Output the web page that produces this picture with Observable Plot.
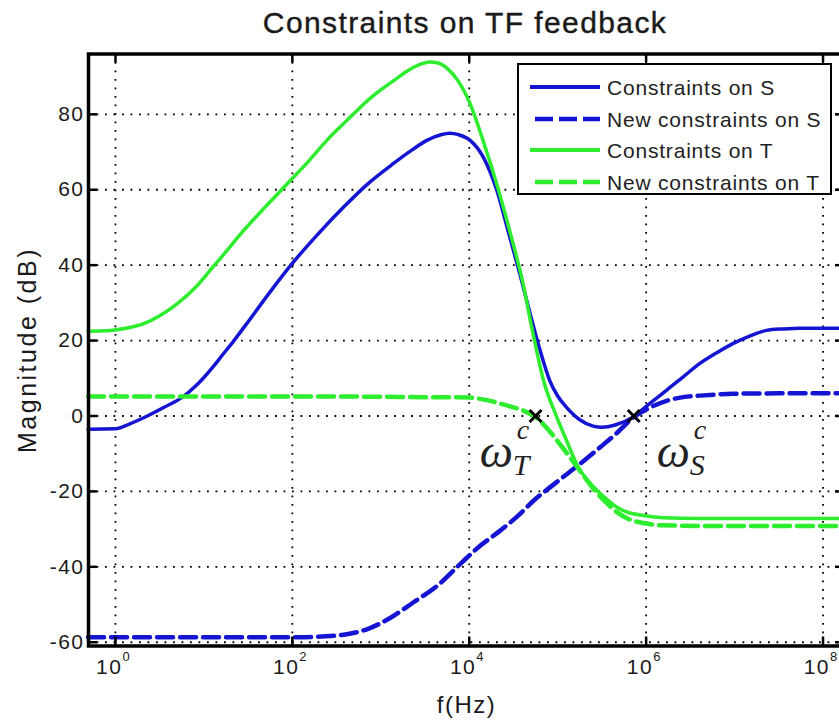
<!DOCTYPE html>
<html>
<head>
<meta charset="utf-8">
<script src="https://cdn.jsdelivr.net/npm/d3@7"></script>
<script src="https://cdn.jsdelivr.net/npm/@observablehq/plot@0.6"></script>
<style>
  body { margin: 0; background: #fff; }
  #wrap { position: relative; width: 839px; height: 726px; overflow: hidden; font-family: "Liberation Sans", Arial, sans-serif; color: #1a1a1a; }
  #title { position: absolute; top: 8px; left: 0; width: 930px; text-align: center; font-size: 30px; line-height: 30px; letter-spacing: 1.4px; white-space: nowrap; -webkit-text-stroke: 0.4px #1a1a1a; }
  #chart { position: absolute; top: 45px; left: 0; }
  #legend { position: absolute; left: 517px; top: 63px; width: 315px; height: 132px; box-sizing: border-box; border: 2px solid #000; background: #fff; }
  #legend .row { position: absolute; left: 0; height: 30px; width: 100%; }
  #legend svg { position: absolute; left: 0; top: 0; }
  #legend span { position: absolute; left: 88px; top: 3px; font-size: 21px; line-height: 24px; letter-spacing: 0.8px; white-space: nowrap; color: #222; }
</style>
</head>
<body>
<div id="wrap">
  <div id="title">Constraints on TF feedback</div>
  <div id="chart"></div>
  <div id="legend"></div>
</div>
<script>
// ---- data (frequency as log10(f / Hz), magnitude in dB) ----
const seriesNames = ["Constraints on S", "New constraints on S", "Constraints on T", "New constraints on T"];

const sLogF = [-0.31, 0.0, 0.15, 0.36, 0.55, 0.77, 0.9, 1.0, 1.11, 1.2, 1.34, 1.5, 1.65, 1.99, 2.3, 2.58, 2.85, 3.14, 3.35, 3.52, 3.68, 3.78, 3.88, 4.01, 4.16, 4.31, 4.44, 4.58, 4.69, 4.80, 4.91, 5.0, 5.1, 5.25, 5.4, 5.5, 5.65, 5.85, 6.05, 6.23, 6.42, 6.6, 6.8, 6.98, 7.17, 7.36, 7.55, 7.74, 8.0, 8.3];
const sDb   = [-3.5, -3.4, -2.2, 0.0, 2.3, 5.2, 7.8, 10.2, 13.2, 15.9, 20.0, 25.0, 29.8, 40.2, 48.5, 55.4, 61.5, 66.9, 70.5, 73.1, 74.6, 75.0, 74.6, 73.1, 68.6, 60.0, 49.0, 37.0, 27.0, 17.5, 9.4, 5.3, 2.3, -1.0, -2.7, -3.0, -2.4, -0.3, 3.5, 6.8, 10.4, 13.8, 16.8, 19.2, 21.2, 22.7, 23.1, 23.3, 23.3, 23.3];

const sNewLogF = [-0.31, 1.0, 2.09, 2.32, 2.58, 2.85, 3.11, 3.37, 3.64, 3.90, 4.12, 4.35, 4.55, 4.73, 4.92, 5.11, 5.3, 5.48, 5.67, 5.86, 6.05, 6.24, 6.42, 6.61, 6.99, 7.5, 8.3];
const sNewDb   = [-58.7, -58.7, -58.7, -58.5, -58.0, -56.5, -53.5, -49.4, -45.0, -39.2, -34.5, -30.4, -26.5, -22.4, -18.8, -15.3, -11.8, -8.3, -4.5, -0.3, 2.3, 4.1, 5.0, 5.4, 5.9, 6.0, 6.0];

const tLogF = [-0.31, -0.1, 0.1, 0.32, 0.5, 0.70, 0.9, 1.07, 1.25, 1.45, 1.7, 1.98, 2.2, 2.39, 2.6, 2.77, 2.95, 3.15, 3.3, 3.45, 3.55, 3.65, 3.75, 3.87, 4.01, 4.15, 4.33, 4.47, 4.6, 4.72, 4.84, 4.99, 5.1, 5.22, 5.41, 5.55, 5.67, 5.8, 5.97, 6.2, 6.6, 7.0, 8.3];
const tDb   = [22.5, 22.6, 23.2, 24.5, 26.6, 29.8, 34.0, 38.6, 43.6, 49.2, 55.6, 62.5, 68.0, 73.1, 78.0, 81.9, 85.6, 89.0, 91.5, 93.3, 93.9, 93.6, 92.2, 89.0, 82.8, 73.5, 60.0, 48.0, 36.0, 22.0, 9.4, -0.3, -6.5, -13.0, -18.9, -22.0, -24.2, -25.6, -26.4, -27.0, -27.2, -27.2, -27.2];

const tNewLogF = [-0.31, 1.0, 2.0, 3.0, 3.5, 3.8, 4.0, 4.2, 4.35, 4.47, 4.58, 4.66, 4.75, 4.85, 5.02, 5.22, 5.41, 5.55, 5.67, 5.8, 5.97, 6.2, 7.0, 8.3];
const tNewDb   = [5.2, 5.2, 5.2, 5.1, 5.0, 5.0, 4.9, 4.2, 3.3, 2.5, 1.7, 0.9, -0.3, -2.5, -7.3, -13.5, -19.5, -23.0, -25.5, -27.3, -28.4, -29.0, -29.2, -29.2];

const crossLogF = [4.75, 5.86];
const crossDb = [0, 0];

const omegaSubs = ["T", "S"];
const omegaLogF = [4.12, 6.12];
const omegaDb = [-13.4, -13.4];

const xTickExps = [0, 2, 4, 6, 8];
const yTicks = [-60, -40, -20, 0, 20, 40, 60, 80];
const xDomainLog = [-0.305, 8.243];
const yDomain = [-61, 96];

// ---- styling ----
const BLUE = "#1414d2";
const GREEN = "#2eec2e";
const seriesStyle = [
  {color: BLUE, dash: null, width: 3.5},
  {color: BLUE, dash: "16,7", width: 4.5},
  {color: GREEN, dash: null, width: 3.5},
  {color: GREEN, dash: "16,7", width: 4.5}
];
const seriesData = [[sLogF, sDb], [sNewLogF, sNewDb], [tLogF, tDb], [tNewLogF, tNewDb]];

const rowsFor = (lf, db) => lf.map((l, i) => ({f: 10 ** l, db: db[i]}));
const xTicks = xTickExps.map(e => 10 ** e);
const X0 = 10 ** xDomainLog[0], X1 = 10 ** xDomainLog[1];

const W = 839, H = 681;
const mTop = 8.5, mBottom = 80.5, mLeft = 88, mRight = -5;
const plotH = H - mTop - mBottom, plotW = W - mLeft - mRight;
const dbPerPx = (yDomain[1] - yDomain[0]) / plotH;
const decPerPx = (xDomainLog[1] - xDomainLog[0]) / plotW;
const tickLen = 9;

const gridStyle = {stroke: "#000", strokeOpacity: 1, strokeWidth: 1.8, strokeDasharray: "1.8,6.7"};

const marks = [
  Plot.gridX(xTicks, gridStyle),
  Plot.gridY(yTicks, gridStyle),
  ...seriesData.map(([lf, db], i) => Plot.line(rowsFor(lf, db), {
    x: "f", y: "db", stroke: seriesStyle[i].color, strokeWidth: seriesStyle[i].width,
    strokeDasharray: seriesStyle[i].dash, curve: "monotone-x"
  })),
  Plot.dot(rowsFor(crossLogF, crossDb), {x: "f", y: "db", symbol: "times", r: 5.5, stroke: "#000", strokeWidth: 3}),
  // omega labels
  Plot.text(omegaSubs, {x: (d, i) => 10 ** omegaLogF[i], y: (d, i) => omegaDb[i], text: () => "ω",
    fontFamily: "Liberation Serif, serif", fontStyle: "italic", fontSize: 47, textAnchor: "start", lineAnchor: "bottom", fill: "#222"}),
  Plot.text(omegaSubs, {x: (d, i) => 10 ** omegaLogF[i], y: (d, i) => omegaDb[i], text: () => "c", dx: 37, dy: -28,
    fontFamily: "Liberation Serif, serif", fontStyle: "italic", fontSize: 28, textAnchor: "start", lineAnchor: "bottom", fill: "#222"}),
  Plot.text(omegaSubs, {x: (d, i) => 10 ** omegaLogF[i], y: (d, i) => omegaDb[i], text: d => d, dx: 33, dy: 8,
    fontFamily: "Liberation Serif, serif", fontStyle: "italic", fontSize: 30, textAnchor: "start", lineAnchor: "bottom", fill: "#222"}),
  // inward ticks
  Plot.ruleX(xTicks, {x: d => d, y1: yDomain[0], y2: yDomain[0] + tickLen * dbPerPx, stroke: "#000", strokeWidth: 2.5}),
  Plot.ruleX(xTicks, {x: d => d, y1: yDomain[1] - tickLen * dbPerPx, y2: yDomain[1], stroke: "#000", strokeWidth: 2.5}),
  Plot.ruleY(yTicks, {y: d => d, x1: X0, x2: X0 * 10 ** (tickLen * decPerPx), stroke: "#000", strokeWidth: 2.5}),
  Plot.ruleY(yTicks, {y: d => d, x1: X1 / 10 ** (tickLen * decPerPx), x2: X1, stroke: "#000", strokeWidth: 2.5}),
  Plot.frame({stroke: "#000", strokeWidth: 3.5}),
  // tick labels
  Plot.text(yTicks, {y: d => d, frameAnchor: "left", dx: -4, text: d => String(d), textAnchor: "end", lineAnchor: "middle", fontSize: 21}),
  Plot.text(xTicks, {x: d => d, frameAnchor: "bottom", dy: 28, dx: 7, text: () => "10", textAnchor: "end", lineAnchor: "bottom", fontSize: 21}),
  Plot.text(xTickExps, {x: d => 10 ** d, frameAnchor: "bottom", dy: 15, dx: 7, text: d => String(d), textAnchor: "start", lineAnchor: "bottom", fontSize: 13}),
  // axis labels
  Plot.text(["f(Hz)"], {frameAnchor: "bottom", dy: 67, text: d => d, textAnchor: "middle", lineAnchor: "bottom", fontSize: 24}),
  Plot.text(["Magnitude (dB)"], {frameAnchor: "left", dx: -61, text: d => d, rotate: -90, textAnchor: "middle", lineAnchor: "middle", fontSize: 25})
];

const chart = Plot.plot({
  width: W, height: H,
  marginTop: mTop, marginBottom: mBottom, marginLeft: mLeft, marginRight: mRight,
  x: {type: "log", domain: [X0, X1], axis: null},
  y: {domain: yDomain, axis: null},
  style: {fontFamily: "Liberation Sans, Arial, sans-serif", fontSize: "20px", color: "#1a1a1a", background: "transparent", overflow: "hidden", letterSpacing: "1.5px"},
  marks
});
d3.select(chart).selectAll("text").filter(function() { return this.textContent === "Magnitude (dB)"; }).style("letter-spacing", "2.5px");
document.getElementById("chart").appendChild(chart);

// legend
const legend = d3.select("#legend");
const rowTops = [8, 40, 71, 103];
seriesNames.forEach((name, i) => {
  const row = legend.append("div").attr("class", "row").style("top", rowTops[i] + "px");
  const svg = row.append("svg").attr("width", 90).attr("height", 30);
  const st = seriesStyle[i];
  svg.append("line")
    .attr("x1", st.dash ? 16 : 11).attr("x2", 81).attr("y1", 14).attr("y2", 14)
    .attr("stroke", st.color).attr("stroke-width", st.dash ? 4.5 : 4)
    .attr("stroke-dasharray", st.dash ? "18,6" : null);
  row.append("span").text(name);
});
</script>
</body>
</html>
